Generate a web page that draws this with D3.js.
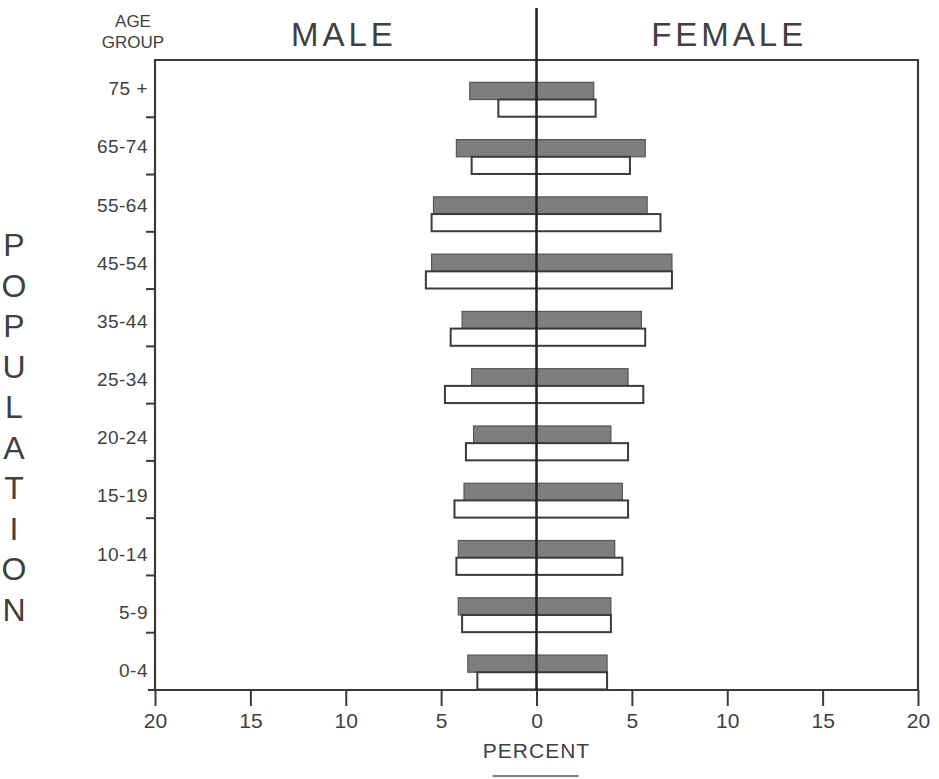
<!DOCTYPE html>
<html>
<head>
<meta charset="utf-8">
<script src="https://cdn.jsdelivr.net/npm/d3@7"></script>
<style>
body{margin:0;background:#fff;}
text{font-family:"Liberation Sans","DejaVu Sans",sans-serif;fill:#404040;}
</style>
</head>
<body>
<div id="chart"></div>
<script>
// age groups top to bottom, values in percent
var ageGroups = ["75 +","65-74","55-64","45-54","35-44","25-34","20-24","15-19","10-14","5-9","0-4"];
var maleShaded   = [3.5,4.2,5.4,5.5,3.9,3.4,3.3,3.8,4.1,4.1,3.6];
var femaleShaded = [3.0,5.7,5.8,7.1,5.5,4.8,3.9,4.5,4.1,3.9,3.7];
var maleOpen     = [2.0,3.4,5.5,5.8,4.5,4.8,3.7,4.3,4.2,3.9,3.1];
var femaleOpen   = [3.1,4.9,6.5,7.1,5.7,5.6,4.8,4.8,4.5,3.9,3.7];
var xTicks = [-20,-15,-10,-5,0,5,10,15,20];
var yTitle = "POPULATION";

var W = 939, H = 779;
var margin = {l:155,r:21,t:60,b:89};
var ink = "#3a3a3a";

var svg = d3.select("#chart").append("svg")
	.attr("width",W).attr("height",H)
	.attr("viewBox","0 0 "+W+" "+H);

var X = d3.scaleLinear().domain([-20,20]).range([margin.l, W-margin.r]),
	Y = d3.scaleBand().domain(ageGroups).range([margin.t, H-margin.b]);
var bw = Y.bandwidth();

var rows = ageGroups.map(function(g,i){
	return {g:g, ms:maleShaded[i], fs:femaleShaded[i], mo:maleOpen[i], fo:femaleOpen[i]};
});

// frame (top, left, right)
svg.append("path")
	.attr("d","M"+X(-20)+","+Y.range()[1]+"V"+margin.t+"H"+X(20)+"V"+Y.range()[1])
	.style("fill","none").style("stroke",ink).style("stroke-width",2.2);

// shaded bars
svg.selectAll(".shaded").data(rows).enter().append("rect")
	.attr("class","shaded")
	.attr("x",function(d){return X(-d.ms)})
	.attr("width",function(d){return X(d.fs)-X(-d.ms)})
	.attr("y",function(d){return Y(d.g)+bw*0.39})
	.attr("height",bw*0.30)
	.style("fill","#7e7e7e")
	.style("stroke","#555").style("stroke-width",1.2);

// open bars
svg.selectAll(".open").data(rows).enter().append("rect")
	.attr("class","open")
	.attr("x",function(d){return X(-d.mo)})
	.attr("width",function(d){return X(d.fo)-X(-d.mo)})
	.attr("y",function(d){return Y(d.g)+bw*0.69})
	.attr("height",bw*0.30)
	.style("fill","#fff")
	.style("stroke",ink).style("stroke-width",2);

// bottom axis
var xa = svg.append("g").attr("class","xaxis")
	.attr("transform","translate(0,"+Y.range()[1]+")")
	.call(d3.axisBottom(X).tickValues(xTicks).tickFormat(function(d){return Math.abs(d)})
		.tickSize(16).tickSizeOuter(0).tickPadding(7));
xa.select(".domain").attr("d","M"+(X(-20)-7)+",0H"+X(20))
	.style("stroke",ink).style("stroke-width",2.2);
xa.selectAll(".tick line").style("stroke",ink).style("stroke-width",2);
xa.selectAll(".tick text").style("font-size","21px").style("fill","#404040");

// left boundary ticks
svg.selectAll(".ytick").data(ageGroups.slice(0,-1)).enter().append("line")
	.attr("class","ytick")
	.attr("x1",X(-20)-9).attr("x2",X(-20))
	.attr("y1",function(d){return Y(d)+bw}).attr("y2",function(d){return Y(d)+bw})
	.style("stroke",ink).style("stroke-width",2);

// age labels
svg.selectAll(".ylab").data(ageGroups).enter().append("text")
	.attr("class","ylab")
	.attr("x",X(-20)-7)
	.attr("y",function(d){return Y(d)+bw*0.5+(ageGroups.indexOf(d))*0.9})
	.attr("dy","0.35em")
	.attr("text-anchor","end")
	.style("font-size","19px")
	.style("letter-spacing","0.5px")
	.text(function(d){return d});

// centre line
svg.append("line")
	.attr("x1",X(0)).attr("x2",X(0))
	.attr("y1",8).attr("y2",Y.range()[1])
	.style("stroke","#222").style("stroke-width",2.5);

// titles
svg.append("text").attr("x",X(-10.1)).attr("y",46).attr("text-anchor","middle")
	.style("font-size","33px").style("letter-spacing","4px").text("MALE");
svg.append("text").attr("x",X(10.1)).attr("y",46).attr("text-anchor","middle")
	.style("font-size","33px").style("letter-spacing","4px").text("FEMALE");
svg.append("text").attr("x",133).attr("y",27).attr("text-anchor","middle")
	.style("font-size","17px").text("AGE");
svg.append("text").attr("x",133).attr("y",48).attr("text-anchor","middle")
	.style("font-size","17px").text("GROUP");

// x title
svg.append("text").attr("x",X(0)).attr("y",758).attr("text-anchor","middle")
	.style("font-size","21px").style("letter-spacing","1px").text("PERCENT");
svg.append("line").attr("x1",X(-2.3)).attr("x2",X(2.2)).attr("y1",776).attr("y2",776)
	.style("stroke","#555").style("stroke-width",1.5);

// vertical population title, one letter per row
svg.selectAll(".vlet").data(yTitle.split("")).enter().append("text")
	.attr("class","vlet")
	.attr("x",14)
	.attr("y",function(d,i){return 256+i*40.5})
	.attr("text-anchor","middle")
	.style("font-size","32px")
	.text(function(d){return d});
</script>
</body>
</html>
